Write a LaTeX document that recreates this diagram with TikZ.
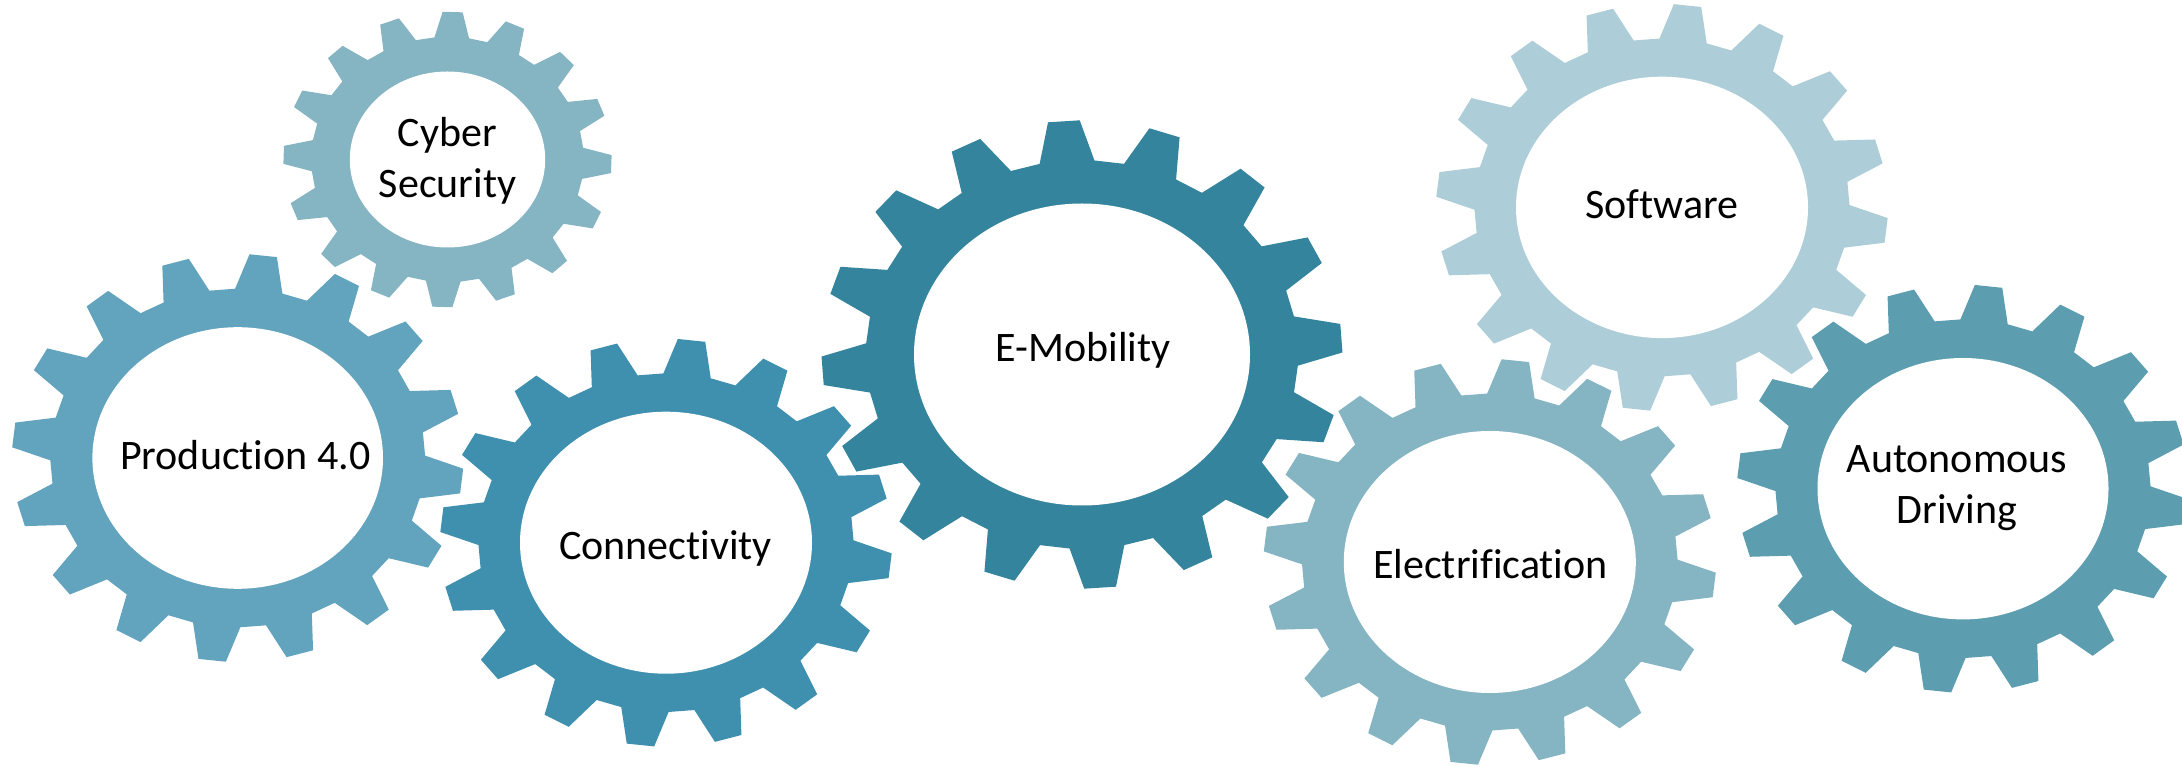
\documentclass[tikz,border=0pt]{standalone}
\usepackage{fontspec}
\setmainfont{Carlito}[Ligatures=NoCommon]
\definecolor{gcyber}{HTML}{85B4C3}
\definecolor{gprod}{HTML}{62A3BD}
\definecolor{gconn}{HTML}{3F8FAE}
\definecolor{gemob}{HTML}{33849C}
\definecolor{gelec}{HTML}{85B4C3}
\definecolor{gsoft}{HTML}{ADCED8}
\definecolor{gauto}{HTML}{5C9DB0}
% #1 cx, #2 cy, #3 outer rx, #4 outer ry, #5 hole rx, #6 hole ry, #7 phase, #8 colour
\newcommand\drawgear[8]{%
  \begin{scope}[shift={(#1,#2)}]
    \pgfmathsetmacro\grrx{#3/1.205}%
    \pgfmathsetmacro\grry{#4/1.205}%
    \fill[#8] (#7-7.3:\grrx\space and \grry)
      \foreach \k [evaluate=\k as \ga using #7+22.5*\k] in {0,...,15}{
        -- (\ga-7.3:\grrx\space and \grry)
        -- (\ga-3.5:#3 and #4)
        -- (\ga+3.5:#3 and #4)
        -- (\ga+7.3:\grrx\space and \grry)
      } -- cycle;
    \fill[white] (0,0) ellipse [x radius=#5, y radius=#6];
  \end{scope}}
\tikzset{
  lbl/.style={font=\fontsize{42}{50.5}\selectfont, text=black, inner sep=0pt, anchor=base},
  lbl2/.style={lbl, text width=300pt, align=center}
}
\begin{document}
\begin{tikzpicture}[x=1pt,y=1pt]
  \useasboundingbox (0,0) rectangle (2182,766);
  \drawgear{447.5}{606.5}{164.2}{147.8}{97.7}{88}{20.7}{gcyber}
  \drawgear{237.7}{308}{225.8}{204}{145.3}{130.8}{16}{gprod}
  \drawgear{666}{223.3}{226}{204}{146}{131}{16}{gconn}
  \drawgear{1082}{411.5}{260.5}{234.2}{168}{151}{4}{gemob}
  \drawgear{1662}{558.6}{226}{203.5}{146}{130.7}{16}{gsoft}
  \drawgear{1489.8}{204}{226.3}{203}{146}{131}{16}{gelec}
  \drawgear{1963}{277.3}{226}{204}{145.5}{130.7}{16}{gauto}
  \node[lbl2] (cyber) at (447.5,619.3) {Cyber\\Security};
  \node[lbl] (prod) at (245.3,296.7) {Production 4.0};
  \node[lbl] (conn) at (665.5,206.6) {Connectivity};
  \node[lbl] (emob) at (1083,404.5) {E-Mobility};
  \node[lbl] (elec) at (1490.5,187.7) {Electrification};
  \node[lbl] (soft) at (1662,547.6) {Software};
  \node[lbl2] (auto) at (1957,293.1) {Autonomous\\Driving};
\end{tikzpicture}
\end{document}
